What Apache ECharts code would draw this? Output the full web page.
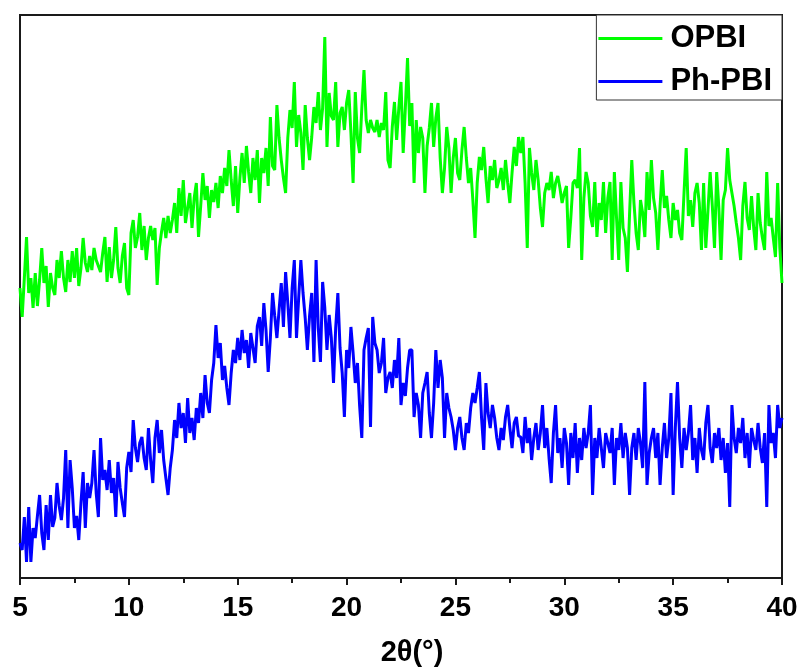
<!DOCTYPE html>
<html><head><meta charset="utf-8">
<script src="https://cdn.jsdelivr.net/npm/echarts/dist/echarts.min.js"></script>
<style>html,body{margin:0;padding:0;background:#fff}#c{width:802px;height:668px}</style>
</head><body><div id="c"></div>
<script>
// 2θ sampling of the scan (degrees)
const thetaStart = 5, thetaStep = 0.1;
const xTicks = [5, 10, 15, 20, 25, 30, 35, 40];
const seriesNames = ['OPBI', 'Ph-PBI'];

// OPBI intensity (a.u.), 5.0° → 40.0°
const opbi = [
 290,261,300,341,285,300,270,305,272,298,
 330,295,312,271,305,290,283,318,300,327,
 300,286,318,296,327,300,330,292,310,340,
 315,306,322,308,330,318,312,306,325,341,
 296,331,300,318,351,310,295,322,335,290,
 283,345,358,330,341,365,328,352,318,340,
 352,338,350,293,330,346,360,340,362,345,
 358,375,345,390,362,398,355,370,385,350,
 380,395,341,372,405,378,392,360,388,376,
 395,370,402,385,410,392,428,398,372,412,
 365,400,425,395,432,406,385,420,398,428,
 375,420,405,430,392,461,412,408,473,440,
 418,400,385,440,468,450,496,431,463,445,
 408,473,440,418,441,471,455,486,448,470,
 541,431,485,462,458,496,431,465,471,448,
 475,488,445,395,486,440,425,470,508,458,
 445,458,450,446,458,441,455,448,486,418,
 410,451,476,438,470,496,425,470,520,452,
 475,395,458,425,451,440,385,432,450,475,
 431,460,475,420,385,410,451,430,385,420,
 440,405,398,428,451,420,395,410,378,340,
 395,421,408,431,400,375,412,398,418,390,
 398,410,388,418,395,375,405,431,412,441,
 425,441,395,330,430,405,388,418,398,370,
 351,385,395,388,406,380,395,402,390,375,
 385,392,330,360,395,398,390,430,318,380,
 406,395,362,351,396,341,375,358,396,345,
 380,396,318,406,360,318,396,350,340,306,
 365,418,375,345,328,378,365,341,406,368,
 418,380,365,328,372,408,370,382,358,340,
 375,358,368,345,338,385,430,362,378,351,
 385,395,375,328,395,330,368,406,372,330,
 406,370,318,378,388,430,398,385,372,355,
 340,318,372,396,360,348,382,350,328,385,
 355,340,328,406,352,360,340,321,395,330,
 295
];

// Ph-PBI intensity (a.u.), 5.0° → 40.0°
const phpbi = [
 35,28,61,16,71,16,50,40,62,83,
 45,28,73,38,83,51,60,95,72,58,
 80,128,50,118,90,50,62,38,75,106,
 50,95,80,95,128,85,61,140,98,108,
 88,118,85,100,61,116,90,75,61,110,
 126,106,158,130,116,135,141,120,108,150,
 118,95,140,158,125,148,118,100,83,110,
 128,158,140,175,150,165,135,180,145,160,
 138,170,155,185,160,203,175,165,198,215,
 253,220,235,198,212,190,173,205,228,215,
 240,218,248,225,238,210,245,230,215,252,
 261,232,275,248,206,240,285,262,240,268,
 295,251,306,275,240,290,318,240,280,318,
 285,260,228,262,285,216,318,250,216,296,
 270,228,263,240,195,250,285,230,205,161,
 228,210,251,225,195,215,172,140,228,240,
 250,151,261,235,228,205,215,240,185,200,
 206,190,218,200,240,173,195,182,210,228,
 228,161,185,173,140,185,195,206,165,140,
 175,228,190,218,200,140,185,170,161,148,
 128,150,161,140,128,155,145,170,185,175,
 190,206,160,128,195,165,150,173,160,140,
 128,150,138,161,173,150,130,155,161,142,
 141,125,161,135,150,118,140,155,128,145,
 173,130,150,120,95,145,173,125,140,110,
 150,135,93,145,120,155,105,140,118,150,
 130,145,173,83,140,120,150,130,110,145,
 135,125,150,93,140,128,155,120,145,130,
 83,130,145,118,150,135,110,196,93,125,
 140,150,120,145,93,130,155,120,140,185,
 83,150,196,140,110,150,128,145,173,118,
 140,105,150,128,118,155,173,130,115,145,
 130,150,118,140,105,135,71,173,140,125,
 150,135,160,120,145,110,150,138,128,155,
 130,115,145,71,173,135,145,120,173,150,
 160
];

const toPairs = arr => arr.map((v, i) => [+(thetaStart + i * thetaStep).toFixed(2), v]);
const FONT = '"Liberation Sans", Arial, sans-serif';
const chart = echarts.init(document.getElementById('c'), null, {renderer: 'canvas'});
chart.setOption({
  animation: false,
  backgroundColor: '#ffffff',
  grid: {left: 20, right: 20, top: 15, bottom: 90, show: true, borderColor: '#1a1a1a', borderWidth: 2,
         backgroundColor: 'transparent', containLabel: false, outerBoundsMode: 'none'},
  legend: {
    orient: 'vertical', right: 20, top: 15, align: 'left',
    backgroundColor: '#ffffff', borderColor: '#333', borderWidth: 1,
    padding: [8, 10, 3, 2], itemWidth: 64, itemHeight: 3, itemGap: 12, icon: 'rect',
    textStyle: {fontSize: 31, fontWeight: 'bold', color: '#000', fontFamily: FONT, padding: [0, 0, 0, 3]},
    data: seriesNames
  },
  xAxis: {
    type: 'value', min: xTicks[0], max: xTicks[xTicks.length - 1], interval: 5,
    name: '2θ(°)', nameLocation: 'middle', nameGap: 60,
    nameTextStyle: {fontSize: 29, fontWeight: 'bold', color: '#000', fontFamily: FONT, padding: [0, 0, 0, 22]},
    axisLine: {show: true, lineStyle: {color: '#1a1a1a', width: 2}},
    axisTick: {show: true, inside: false, length: 7, lineStyle: {color: '#1a1a1a', width: 2}},
    minorTick: {show: true, splitNumber: 2, length: 5, lineStyle: {color: '#1a1a1a', width: 2}},
    axisLabel: {fontSize: 28, fontWeight: 'bold', color: '#000', fontFamily: FONT, margin: 16},
    splitLine: {show: false}
  },
  yAxis: {type: 'value', min: 0, max: 563, show: false, splitLine: {show: false}},
  series: [
    {name: seriesNames[0], type: 'line', data: toPairs(opbi), showSymbol: false, symbol: 'none',
     lineStyle: {color: '#00ff00', width: 3}, itemStyle: {color: '#00ff00'}, clip: true},
    {name: seriesNames[1], type: 'line', data: toPairs(phpbi), showSymbol: false, symbol: 'none',
     lineStyle: {color: '#0000ff', width: 3}, itemStyle: {color: '#0000ff'}, clip: true}
  ]
});
</script>
</body></html>
